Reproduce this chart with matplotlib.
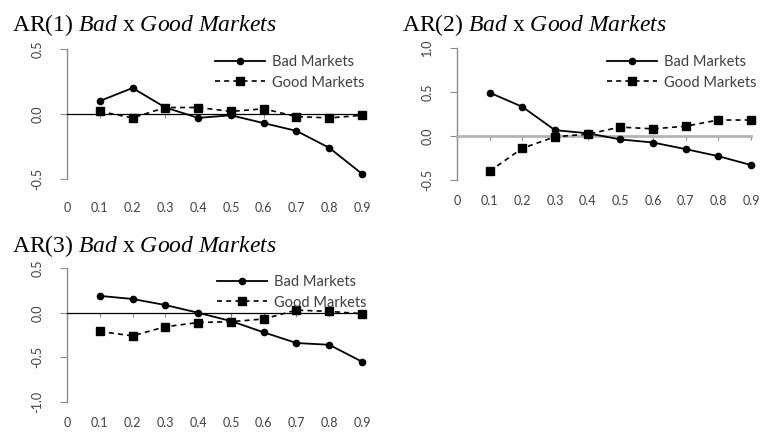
import matplotlib.pyplot as plt

plt.rcParams['mathtext.fontset'] = 'custom'
plt.rcParams['mathtext.it'] = 'Liberation Serif:italic'
plt.rcParams['mathtext.rm'] = 'Liberation Serif'

# quantile levels on the x axis
quantiles = [0.1, 0.2, 0.3, 0.4, 0.5, 0.6, 0.7, 0.8, 0.9]
x_ticks = [0, 0.1, 0.2, 0.3, 0.4, 0.5, 0.6, 0.7, 0.8, 0.9]
x_labels = ['0', '0.1', '0.2', '0.3', '0.4', '0.5', '0.6', '0.7', '0.8', '0.9']

# AR(1) coefficients
ar1_bad = [0.10, 0.20, 0.05, -0.03, -0.01, -0.07, -0.13, -0.26, -0.46]
ar1_good = [0.02, -0.03, 0.05, 0.05, 0.02, 0.04, -0.02, -0.03, -0.01]

# AR(2) coefficients
ar2_bad = [0.49, 0.33, 0.065, 0.03, -0.04, -0.075, -0.15, -0.23, -0.33]
ar2_good = [-0.40, -0.14, -0.01, 0.02, 0.10, 0.08, 0.11, 0.18, 0.18]

# AR(3) coefficients
ar3_bad = [0.19, 0.155, 0.087, 0.0, -0.093, -0.22, -0.34, -0.36, -0.55]
ar3_good = [-0.21, -0.26, -0.157, -0.11, -0.10, -0.07, 0.03, 0.015, -0.01]

W, H = 763, 436
fig = plt.figure(figsize=(W / 100, H / 100), dpi=100)

AXIS_GRAY = '#8c8c8c'
LABEL_COLOR = '#404040'
TICK_FONT = 'Lato'


def box(x0, x1, y_top, y_bot):
    # pixel box -> figure fraction rect
    return [x0 / W, 1 - y_bot / H, (x1 - x0) / W, (y_bot - y_top) / H]


def panel(rect, bad, good, ylim, yticks, zero_color, zero_lw, xpad,
          title, title_xy, leg_xy):
    ax = fig.add_axes(rect)
    ax.plot(quantiles, bad, color='black', lw=1.3, marker='o', ms=4.5,
            label='Bad Markets', clip_on=False, zorder=4)
    ax.plot(quantiles, good, color='black', lw=1.2, ls=(0, (3, 2.5)), marker='s',
            ms=5.5, label='Good Markets', clip_on=False, zorder=4)
    ax.set_xlim(0, 0.9)
    ax.set_ylim(*ylim)

    # horizontal axis runs through zero, labels sit below the plot
    ax.spines['bottom'].set_position(('data', 0))
    ax.spines['bottom'].set_color(zero_color)
    ax.spines['bottom'].set_linewidth(zero_lw)
    ax.set_xticks(x_ticks)
    ax.tick_params(axis='x', length=3, width=0.8, color=AXIS_GRAY,
                   direction='out', labelbottom=False)
    sec = ax.secondary_xaxis(0)
    sec.spines['bottom'].set_visible(False)
    sec.set_xticks(x_ticks)
    sec.set_xticklabels(x_labels, fontsize=9, color=LABEL_COLOR, family=TICK_FONT)
    sec.tick_params(length=0, pad=xpad)

    ax.spines['left'].set_color(AXIS_GRAY)
    ax.spines['left'].set_linewidth(1.0)
    ax.spines['top'].set_visible(False)
    ax.spines['right'].set_visible(False)
    ax.set_yticks(yticks)
    ax.set_yticklabels([f'{v:.1f}' for v in yticks], rotation=90, va='center',
                       fontsize=9, color=LABEL_COLOR, family=TICK_FONT)
    ax.tick_params(axis='y', length=5, width=0.8, color=AXIS_GRAY, pad=12)

    ax.legend(loc='upper left', bbox_to_anchor=leg_xy, bbox_transform=fig.transFigure,
              frameon=False, prop={'family': TICK_FONT, 'size': 10.5},
              handlelength=3.4, handletextpad=0.5, labelspacing=0.45,
              borderpad=0, borderaxespad=0, labelcolor=LABEL_COLOR)

    fig.text(title_xy[0] / W, 1 - title_xy[1] / H, title, fontsize=17,
             family='Liberation Serif', ha='left', va='baseline')
    return ax


panel(box(67, 362, 49, 179), ar1_bad, ar1_good, (-0.5, 0.5), [-0.5, 0.0, 0.5],
      'black', 0.9, 16.5, r'AR(1) $\mathit{Bad}$ x $\mathit{Good\ Markets}$',
      (12, 31), (215 / W, 1 - 55 / H))
panel(box(457, 751, 47.7, 180), ar2_bad, ar2_good, (-0.5, 1.0), [-0.5, 0.0, 0.5, 1.0],
      '#b3b3b3', 2.0, 11, r'AR(2) $\mathit{Bad}$ x $\mathit{Good\ Markets}$',
      (402, 31), (607 / W, 1 - 55 / H))
panel(box(67, 362, 268.3, 401.7), ar3_bad, ar3_good, (-1.0, 0.5), [-1.0, -0.5, 0.0, 0.5],
      'black', 0.9, 11, r'AR(3) $\mathit{Bad}$ x $\mathit{Good\ Markets}$',
      (12, 251.7), (217 / W, 1 - 275 / H))

fig.savefig('out.png', dpi=100)
